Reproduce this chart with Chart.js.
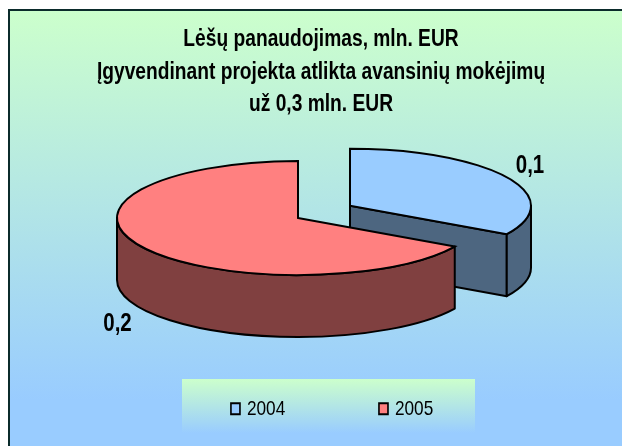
<!DOCTYPE html>
<html><head><meta charset="utf-8">
<style>html,body{margin:0;padding:0;background:#fff}canvas{display:block}</style>
<script src="https://cdn.jsdelivr.net/npm/chart.js@4"></script>
</head><body>
<div style="width:622px;height:446px"><canvas id="c" width="622" height="446"></canvas></div>
<script>
const years = ['2004', '2005'];
const funds = [0.1, 0.2];
const sliceColors = ['#99CCFF', '#FF8080'];
const sideColors = ['#4D6680', '#804040'];
const titleLines = ['Lėšų panaudojimas, mln. EUR', 'Įgyvendinant projekta atlikta avansinių mokėjimų', 'už 0,3 mln. EUR'];

const FLAT = 0.315, DEPTH = 62, RADIUS = 181;
const CENTERS = [[350, 205.7], [298, 218]];
const LABEL_POS = [[530, 166], [117.5, 324]];
const FONT = '"Liberation Sans"';
const SQUEEZE = 0.82, TITLE_SQUEEZE = 0.835;

function squeezeDraw(box, ctx, fromX, toX, k) {
  const orig = box.draw;
  if (box._squeezed) return;
  box._squeezed = true;
  box.draw = function (...a) {
    ctx.save();
    ctx.translate(toX, 0); ctx.scale(k, 1); ctx.translate(-fromX, 0);
    orig.apply(this, a);
    ctx.restore();
  };
}

function sideFaces(ctx, arc, c, color) {
  const [cx, cy] = c;
  const r = arc.outerRadius, ry = r * FLAT;
  const s = arc.startAngle, e = arc.endAngle;
  ctx.fillStyle = color; ctx.strokeStyle = '#000'; ctx.lineWidth = 2; ctx.lineJoin = 'round';
  const radial = (a) => {
    const px = cx + r * Math.cos(a), py = cy + ry * Math.sin(a);
    ctx.beginPath(); ctx.moveTo(cx, cy); ctx.lineTo(px, py); ctx.lineTo(px, py + DEPTH); ctx.lineTo(cx, cy + DEPTH); ctx.closePath();
    ctx.fill(); ctx.stroke();
  };
  if (Math.cos(e) > 1e-6) radial(e);
  if (Math.cos(s) < -1e-6) radial(s);
  const a0 = Math.max(s, 0), a1 = Math.min(e, Math.PI);
  if (a1 > a0) {
    ctx.beginPath();
    ctx.ellipse(cx, cy, r, ry, 0, a0, a1);
    ctx.ellipse(cx, cy + DEPTH, r, ry, 0, a1, a0, true);
    ctx.closePath(); ctx.fill(); ctx.stroke();
  }
}

const pie3d = {
  id: 'pie3d',
  beforeDraw(chart) {
    const { ctx, width, height } = chart;
    ctx.save();
    ctx.fillStyle = '#fff'; ctx.fillRect(0, 0, width, height);
    let g = ctx.createLinearGradient(0, 10, 0, 400);
    g.addColorStop(0, '#CCFFCC'); g.addColorStop(1, '#99CCFF');
    ctx.fillStyle = g; ctx.fillRect(9, 10, width, height);
    ctx.strokeStyle = '#0B2B2B'; ctx.lineWidth = 2;
    ctx.beginPath(); ctx.moveTo(9, height + 2); ctx.lineTo(9, 10); ctx.lineTo(width + 2, 10); ctx.stroke();
    g = ctx.createLinearGradient(0, 379, 0, 433);
    g.addColorStop(0, '#CCFFCC'); g.addColorStop(1, '#99CCFF');
    ctx.fillStyle = g; ctx.fillRect(182, 379, 293, 54);
    ctx.restore();
  },
  afterLayout(chart) {
    const t = chart.titleBlock, l = chart.legend;
    squeezeDraw(t, chart.ctx, 311, 321, TITLE_SQUEEZE);
    squeezeDraw(l, chart.ctx, 0, 0, SQUEEZE);
    l.left += 95; l.right += 95;
    const h = l.height; l.top = 282; l.bottom = l.top + h;
  },
  beforeDatasetDraw(chart, args) {
    const { ctx } = chart;
    const arcs = chart.getDatasetMeta(args.index).data;
    arcs.forEach((arc, i) => {
      sideFaces(ctx, arc, CENTERS[i], sideColors[i]);
      const [cx, cy] = CENTERS[i];
      ctx.save();
      ctx.translate(cx, cy); ctx.scale(1, FLAT); ctx.translate(-arc.x, -arc.y);
      arc.draw(ctx);
      ctx.restore();
      ctx.save();
      ctx.strokeStyle = '#000'; ctx.lineWidth = 2; ctx.lineJoin = 'miter';
      ctx.beginPath();
      ctx.moveTo(cx, cy);
      ctx.ellipse(cx, cy, arc.outerRadius, arc.outerRadius * FLAT, 0, arc.startAngle, arc.endAngle);
      ctx.closePath(); ctx.stroke();
      ctx.restore();
    });
    funds.forEach((v, i) => {
      ctx.save();
      ctx.fillStyle = '#000'; ctx.font = 'bold 25px ' + FONT; ctx.textAlign = 'center'; ctx.textBaseline = 'middle';
      ctx.translate(LABEL_POS[i][0], LABEL_POS[i][1]); ctx.scale(SQUEEZE, 1);
      ctx.fillText(v.toFixed(1).replace('.', ','), 0, 0);
      ctx.restore();
    });
    return false;
  }
};

new Chart(document.getElementById('c'), {
  type: 'pie',
  data: { labels: years, datasets: [{ data: funds, backgroundColor: sliceColors, borderWidth: 0, radius: RADIUS }] },
  plugins: [pie3d],
  options: {
    responsive: false, animation: false, events: [],
    plugins: {
      tooltip: { enabled: false },
      title: { display: true, text: titleLines, color: '#000', font: { family: FONT, size: 23, weight: 'bold', lineHeight: 1.4 }, padding: { top: 24, bottom: 0 } },
      legend: {
        display: true, position: 'bottom',
        labels: {
          color: '#000', font: { family: FONT, size: 21 }, boxWidth: 7, boxHeight: 11, padding: 116.3,
          usePointStyle: true, pointStyle: 'rect',
          generateLabels(chart) {
            return Chart.overrides.doughnut.plugins.legend.labels.generateLabels(chart).map(x => ({ ...x, strokeStyle: '#000', lineWidth: 2 }));
          }
        }
      }
    }
  }
});
</script>
</body></html>
